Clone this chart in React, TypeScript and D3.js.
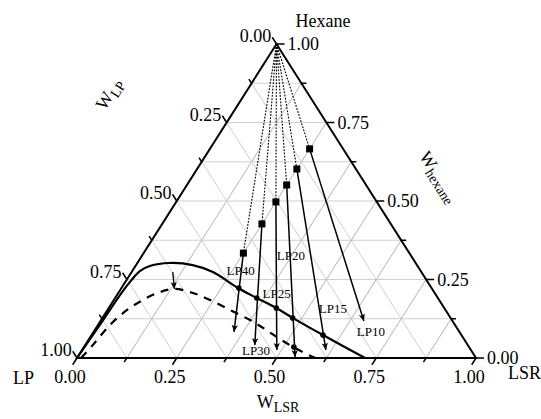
import * as React from "react"
import * as d3 from "d3"

// compositions are given as (w_LSR, w_hexane); w_LP = 1 - both
const solidLsr = [0.0, 0.005, 0.008, 0.0125, 0.019, 0.036, 0.081, 0.142, 0.2035, 0.292, 0.355, 0.42, 0.478, 0.58, 0.722]
const solidHex = [0.0, 0.12, 0.21, 0.248, 0.277, 0.293, 0.3025, 0.296, 0.274, 0.223, 0.191, 0.159, 0.127, 0.073, 0.0]

const dashLsr = [0.01, 0.019, 0.03, 0.049, 0.073, 0.103, 0.135, 0.187, 0.241, 0.307, 0.373, 0.425, 0.478, 0.53, 0.59, 0.598]
const dashHex = [0.0, 0.041, 0.105, 0.153, 0.185, 0.21, 0.22, 0.207, 0.185, 0.153, 0.121, 0.092, 0.0605, 0.032, 0.003, 0.0]

const runNames = ["LP10", "LP15", "LP20", "LP25", "LP30", "LP40"]
const feedLsr = [0.25, 0.25, 0.25, 0.25, 0.25, 0.25]
const feedHex = [0.666, 0.602, 0.551, 0.497, 0.427, 0.334]
const endLsr = [0.66, 0.611, 0.545, 0.488, 0.425, 0.352]
const endHex = [0.118, 0.0255, 0.003, 0.0255, 0.041, 0.083]
const labelLsr = [0.695, 0.562, 0.372, 0.397, 0.436, 0.27]
const labelHex = [0.083, 0.159, 0.328, 0.207, 0.0255, 0.28]

// points where the arrows cross the curves
const crossLsr = [0.294, 0.355, 0.42, 0.477, 0.58, 0.526]
const crossHex = [0.223, 0.191, 0.159, 0.127, 0.073, 0.035]

// shift of the binodal maximum
const shiftLsr = [0.103, 0.134]
const shiftHex = [0.274, 0.22]

const majorTicks = [0, 0.25, 0.5, 0.75, 1]
const minorTicks = [0.125, 0.375, 0.625, 0.875]
const gridSteps = [0.125, 0.25, 0.375, 0.5, 0.625, 0.75, 0.875]

const width = 541
const height = 419

function App() {
    const x = d3.scaleLinear().domain([0, 1]).range([77, 476])
    const y = d3.scaleLinear().domain([0, 1]).range([358, 44])
    const px = (lsr, hex) => x(lsr + hex / 2)
    const py = (lsr, hex) => y(hex)
    const P = (lsr, hex) => [px(lsr, hex), py(lsr, hex)]

    const line = d3.line().curve(d3.curveCatmullRom.alpha(0.5))
    const solidPts = solidLsr.map((v, i) => P(v, solidHex[i]))
    const dashPts = dashLsr.map((v, i) => P(v, dashHex[i]))

    const A = P(0, 1)
    const LPv = P(0, 0)
    const LSRv = P(1, 0)

    // unit directions for the ticks
    const len = Math.hypot(200, 314)
    const dBottom = [-200 / len, 314 / len]
    const dLeft = [-199 / len, -314 / len]
    const dRight = [1, 0]

    const gridLines = []
    gridSteps.forEach((k) => {
        gridLines.push({ a: P(0, k), b: P(1 - k, k), c: "#cfcfcf" })
        gridLines.push({ a: P(k, 0), b: P(k, 1 - k), c: "#b4b4b4" })
        gridLines.push({ a: P(1 - k, 0), b: P(0, 1 - k), c: "#cfcfcf" })
    })

    const font = "'Liberation Serif', 'Times New Roman', serif"

    const ticks = []
    majorTicks.concat(minorTicks).forEach((t) => {
        const m = majorTicks.includes(t)
        const l = m ? 8 : 5
        // bottom: w_LSR
        const b = P(t, 0)
        ticks.push({ a: b, b: [b[0] + dBottom[0] * l, b[1] + dBottom[1] * l] })
        // left: w_LP = t
        const lp = P(0, 1 - t)
        ticks.push({ a: lp, b: [lp[0] + dLeft[0] * l, lp[1] + dLeft[1] * l] })
        // right: w_hexane = t
        const r = P(1 - t, t)
        ticks.push({ a: r, b: [r[0] + dRight[0] * l, r[1]] })
    })

    const fmt = d3.format(".2f")

    return (
        <svg width={width} height={height} style={{ position: "absolute", left: 0, top: 0, background: "#fff" }} fontFamily={font}>
            <defs>
                <marker id="ah" viewBox="0 0 10 10" refX="10" refY="5" markerWidth="8" markerHeight="7" orient="auto" markerUnits="userSpaceOnUse">
                    <path d="M0,0.5 L10,5 L0,9.5 L2.5,5 z" fill="#000" />
                </marker>
            </defs>

            {gridLines.map((g, i) => (
                <line key={"g" + i} x1={g.a[0]} y1={g.a[1]} x2={g.b[0]} y2={g.b[1]} stroke={g.c} strokeWidth={1} />
            ))}

            <path d={`M${LPv[0]},${LPv[1]}L${LSRv[0]},${LSRv[1]}L${A[0]},${A[1]}Z`} fill="none" stroke="#000" strokeWidth={2} strokeLinejoin="miter" />

            {ticks.map((t, i) => (
                <line key={"t" + i} x1={t.a[0]} y1={t.a[1]} x2={t.b[0]} y2={t.b[1]} stroke="#000" strokeWidth={1.5} />
            ))}

            {majorTicks.map((t) => {
                const b = P(t, 0)
                const lp = P(0, 1 - t)
                const r = P(1 - t, t)
                return (
                    <g key={"l" + t} fontSize={18}>
                        <text x={b[0] - 7} y={383} textAnchor="middle">{fmt(t)}</text>
                        <text x={lp[0] + dLeft[0] * 8 - 1} y={lp[1] + dLeft[1] * 8 + 5} textAnchor="end">{fmt(t)}</text>
                        <text x={r[0] + 11} y={r[1] + 6} textAnchor="start">{fmt(t)}</text>
                    </g>
                )
            })}

            <path d={line(solidPts)} fill="none" stroke="#000" strokeWidth={2.2} />
            <path d={line(dashPts)} fill="none" stroke="#000" strokeWidth={2.2} strokeDasharray="8 7" />

            <line x1={px(shiftLsr[0], shiftHex[0])} y1={py(shiftLsr[0], shiftHex[0])} x2={px(shiftLsr[1], shiftHex[1])} y2={py(shiftLsr[1], shiftHex[1])} stroke="#000" strokeWidth={1.3} markerEnd="url(#ah)" />

            {runNames.map((name, i) => {
                const f = P(feedLsr[i], feedHex[i])
                const e = P(endLsr[i], endHex[i])
                return (
                    <g key={name}>
                        <line x1={A[0]} y1={A[1]} x2={f[0]} y2={f[1]} stroke="#000" strokeWidth={1.1} strokeDasharray="1.8 1.4" />
                        <line x1={f[0]} y1={f[1]} x2={e[0]} y2={e[1]} stroke="#000" strokeWidth={1.5} markerEnd="url(#ah)" />
                        <rect x={f[0] - 3.5} y={f[1] - 3.5} width={7} height={7} fill="#000" />
                        <text x={px(labelLsr[i], labelHex[i])} y={py(labelLsr[i], labelHex[i])} dy="0.35em" textAnchor="middle" fontSize={13}>{name}</text>
                    </g>
                )
            })}

            {crossLsr.map((v, i) => (
                <circle key={"c" + i} cx={px(v, crossHex[i])} cy={py(v, crossHex[i])} r={2.8} fill="#000" />
            ))}

            <text x={323} y={27} textAnchor="middle" fontSize={18}>Hexane</text>
            <text x={13} y={384} fontSize={18}>LP</text>
            <text x={508} y={379} fontSize={18}>LSR</text>

            <text x={278} y={408} textAnchor="middle" fontSize={18}>
                W<tspan fontSize={14} dy={4}>LSR</tspan>
            </text>
            <text transform="translate(114,97) rotate(-57.5)" textAnchor="middle" fontSize={18}>
                W<tspan fontSize={14} dy={4}>LP</tspan>
            </text>
            <text transform="translate(434,180) rotate(57.5)" textAnchor="middle" fontSize={18}>
                W<tspan fontSize={14} dy={4}>hexane</tspan>
            </text>
        </svg>
    )
}

export default App
